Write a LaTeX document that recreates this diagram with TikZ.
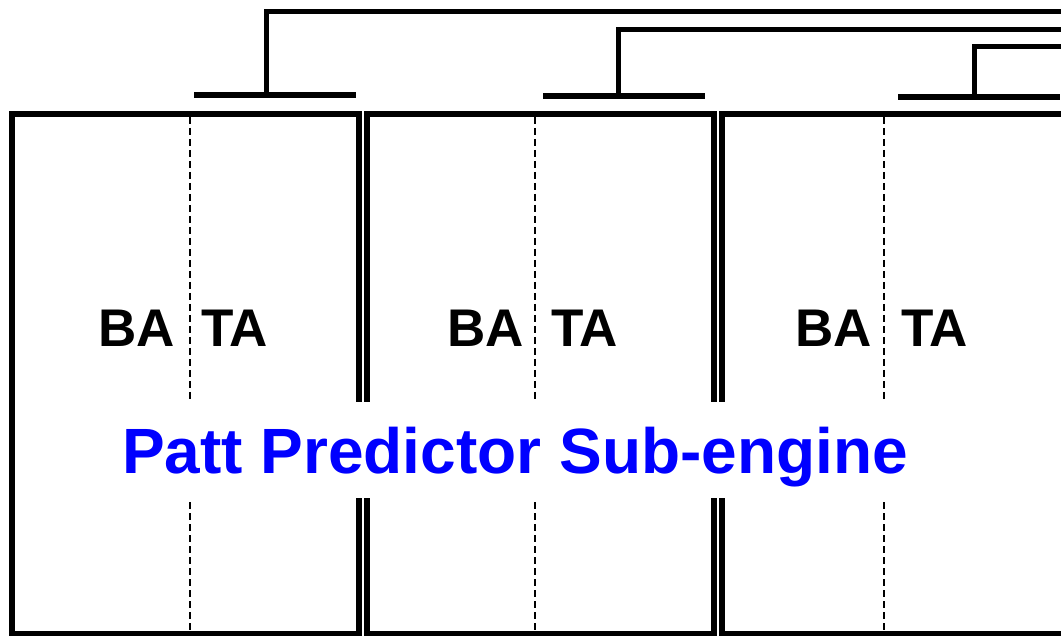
\documentclass[tikz,border=0pt]{standalone}
\usepackage{fontspec}
\setmainfont{Liberation Sans}
\usepackage{tikz}
\usetikzlibrary{positioning}

\begin{document}
\begin{tikzpicture}[x=1pt,y=-1pt,node distance=355pt,on grid,
    engine/.style={draw,line width=5.5pt,minimum width=347pt,minimum height=520pt,inner sep=0pt},
    bar/.style={fill=black,minimum width=162pt,minimum height=6pt,inner sep=0pt},
    wire/.style={line width=5pt},
    split/.style={line width=1.4pt,dash pattern=on 7pt off 4pt},
    lbl/.style={font=\fontsize{53}{60}\selectfont\bfseries,inner sep=0pt}]
  \clip (0,0) rectangle (1061,636);
  % the three sub-engine tables
  \node[engine] (e_1) at (185.25,374) {};
  \node[engine] (e_2) [right=of e_1] {};
  \node[engine] (e_3) [right=of e_2] {};
  % BA / TA split
  \coordinate (d_1) at (190,117);
  \coordinate (d_2) at (535,117);
  \coordinate (d_3) at (884,117);
  \draw[split] (d_1) -- (d_1 |- e_1.south);
  \draw[split] (d_2) -- (d_2 |- e_2.south);
  \draw[split] (d_3) -- (d_3 |- e_3.south);
  \node[lbl,anchor=base east] (ba_1) at (175,347) {BA};
  \node[lbl,anchor=base west] (ta_1) at (201,347) {TA};
  \node[lbl,anchor=base east] (ba_2) at (524,347) {BA};
  \node[lbl,anchor=base west] (ta_2) at (551,347) {TA};
  \node[lbl,anchor=base east] (ba_3) at (872,347) {BA};
  \node[lbl,anchor=base west] (ta_3) at (901,347) {TA};
  % title over the tables
  \node[fill=white,text=blue,font=\fontsize{64}{72}\selectfont\bfseries,
        text height=71pt,text depth=25pt,inner ysep=0pt,inner xsep=8pt,anchor=base]
        (title) at (515,473) {Patt Predictor Sub-engine};
  % read ports on top
  \node[bar] (b_1) at (275,95) {};
  \node[bar] (b_2) at (624,96) {};
  \node[bar] (b_3) at (979,97) {};
  \coordinate (o_1) at (1070,12);
  \coordinate (o_2) at (1070,30);
  \coordinate (o_3) at (1070,47);
  \draw[wire] ([xshift=-8.5pt]b_1.north) |- (o_1);
  \draw[wire] ([xshift=-6pt]b_2.north) |- (o_2);
  \draw[wire] ([xshift=-4.5pt]b_3.north) |- (o_3);
\end{tikzpicture}
\end{document}
